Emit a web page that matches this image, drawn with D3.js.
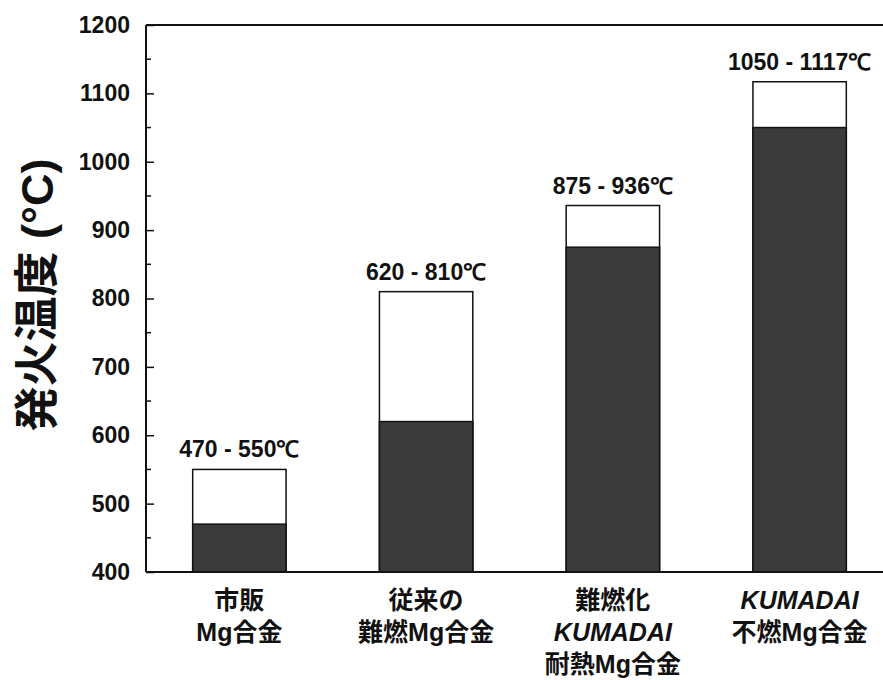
<!DOCTYPE html>
<html><head><meta charset="utf-8">
<script src="https://cdn.jsdelivr.net/npm/d3@7"></script>
<style>body{margin:0;background:#fff}</style>
</head><body>
<svg id="c" width="883" height="680"></svg>
<script>
const categories = ["c1","c2","c3","c4"];
const catLines = [
  [{t:"市販",i:false},{t:"Mg合金",i:false}],
  [{t:"従来の",i:false},{t:"難燃Mg合金",i:false}],
  [{t:"難燃化",i:false},{t:"KUMADAI",i:true},{t:"耐熱Mg合金",i:false}],
  [{t:"KUMADAI",i:true},{t:"不燃Mg合金",i:false}]
];
const lowVals = [470, 620, 875, 1050];
const highVals = [550, 810, 936, 1117];
const rangeLabels = ["470 - 550℃","620 - 810℃","875 - 936℃","1050 - 1117℃"];
const yTicks = [400,500,600,700,800,900,1000,1100,1200];

const svg = d3.select("#c");
const L=146, R=893, T=25, B=572;
const x = d3.scaleBand().domain(categories).range([L,R]).paddingInner(0.5).paddingOuter(0.25);
const y = d3.scaleLinear().domain([400,1200]).range([B,T]);
const numFont = "'Liberation Sans', Arial, sans-serif";
const cjkFont = "'Liberation Sans','Noto Sans CJK JP', sans-serif";

// bars
const g = svg.append("g");
categories.forEach((c,i)=>{
  const x0 = x(c), w = x.bandwidth();
  g.append("rect").attr("x",x0).attr("y",y(highVals[i])).attr("width",w)
    .attr("height",y(400)-y(highVals[i])).attr("fill","#fff").attr("stroke","#111").attr("stroke-width",1.5);
  g.append("rect").attr("x",x0).attr("y",y(lowVals[i])).attr("width",w)
    .attr("height",y(400)-y(lowVals[i])).attr("fill","#3b3b3b").attr("stroke","#111").attr("stroke-width",1.5);
  g.append("text").attr("x",x0+w/2).attr("y",y(highVals[i])-12)
    .attr("text-anchor","middle").attr("font-family",numFont).attr("font-weight","bold")
    .attr("font-size",23).attr("fill","#111").text(rangeLabels[i]);
  catLines[i].forEach((ln,j)=>{
    g.append("text").attr("x",x0+w/2).attr("y",609+j*32)
      .attr("text-anchor","middle").attr("font-family",cjkFont).attr("font-weight","bold")
      .attr("font-style",ln.i?"italic":"normal")
      .attr("font-size",25).attr("fill","#111").text(ln.t);
  });
});

// y axis with major and minor ticks
const yAxis = d3.axisLeft(y).tickValues(yTicks).tickSize(-8).tickPadding(16).tickFormat(d3.format("d"));
const ag = svg.append("g").attr("transform",`translate(${L},0)`).call(yAxis);
ag.select(".domain").remove();
ag.selectAll(".tick line").attr("stroke","#111").attr("stroke-width",1.5);
ag.selectAll(".tick text").attr("font-family",numFont).attr("font-weight","bold").attr("font-size",23).attr("fill","#111");
const minor = d3.range(450,1200,100);
svg.append("g").selectAll("line").data(minor).join("line")
  .attr("x1",L).attr("x2",L+5).attr("y1",d=>y(d)).attr("y2",d=>y(d))
  .attr("stroke","#111").attr("stroke-width",1.5);

// frame
svg.append("line").attr("x1",L).attr("x2",L).attr("y1",T).attr("y2",B).attr("stroke","#111").attr("stroke-width",2);
svg.append("line").attr("x1",L).attr("x2",883).attr("y1",T).attr("y2",T).attr("stroke","#111").attr("stroke-width",2);
svg.append("line").attr("x1",L).attr("x2",883).attr("y1",B).attr("y2",B).attr("stroke","#111").attr("stroke-width",2);

// y label
const yl = svg.append("text").attr("transform","translate(53,295) rotate(-90)")
  .attr("text-anchor","middle").attr("font-weight","bold")
  .attr("font-size",45).attr("fill","#111");
yl.append("tspan").attr("font-family","'Noto Sans CJK JP', sans-serif").text("発火温度");
yl.append("tspan").attr("font-family",numFont).text(" (°C)");
</script>
</body></html>
